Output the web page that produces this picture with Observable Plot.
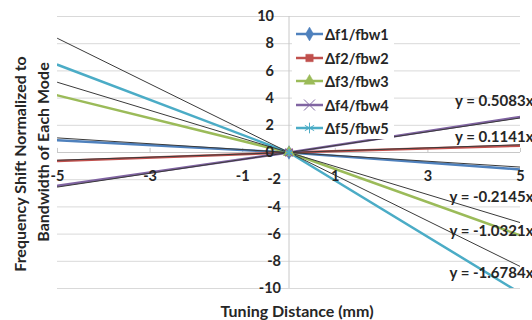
<!DOCTYPE html>
<html>
<head>
<meta charset="utf-8">
<script src="https://cdn.jsdelivr.net/npm/d3@7"></script>
<script src="https://cdn.jsdelivr.net/npm/@observablehq/plot@0.6"></script>
<style>
  html, body { margin: 0; padding: 0; background: #fff; }
  #wrap { position: relative; width: 532px; height: 320px; font-family: Lato, "Open Sans", sans-serif; overflow: hidden; }
  #legend { position: absolute; left: 292px; top: 21px; width: 102px; height: 118px; background: #fff; }
  .row { position: absolute; left: 0; height: 20px; display: flex; align-items: center; }
  .row span { font-weight: bold; font-size: 14.5px; color: #262626; margin-left: 1px; }
  .ytitle { position: absolute; font-weight: bold; font-size: 16px; color: #262626; white-space: nowrap; transform: translate(-50%, -50%) rotate(-90deg); }
  .xtitle { position: absolute; font-weight: bold; font-size: 16px; color: #262626; white-space: nowrap; transform: translate(-50%, -50%); }
</style>
</head>
<body>
<div id="wrap"></div>
<script>
// ---- data ----
const seriesNames = ["Δf1/fbw1", "Δf2/fbw2", "Δf3/fbw3", "Δf4/fbw4", "Δf5/fbw5"];
const seriesColors = ["#4F81BD", "#C0504D", "#9BBB59", "#8064A2", "#4BACC6"];
const seriesSymbols = ["diamond", "square", "triangle", "times", "asterisk"];
const xValues = [-5, 0, 5];
const f1 = [0.9, 0, -1.25];
const f2 = [-0.62, 0, 0.5];
const f3 = [4.2, 0, -6.1];
const f4 = [-2.45, 0, 2.62];
const f5 = [6.45, 0, -10.35];
const trendSlopes = [-0.2145, 0.1141, -1.0321, 0.5083, -1.6784];
const trendLabels = ["y = -0.2145x", "y = 0.1141x", "y = -1.0321x", "y = 0.5083x", "y = -1.6784x"];
const xTicks = [-5, -3, -1, 1, 3, 5];
const yTicks = [-10, -8, -6, -4, -2, 0, 2, 4, 6, 8, 10];
const xTitle = "Tuning Distance (mm)";
const yTitle1 = "Frequency Shift Normalized to";
const yTitle2 = "Bandwidth of Each Mode";

// ---- build tables ----
const allSeries = [f1, f2, f3, f4, f5];
const points = [];
allSeries.forEach((arr, i) => arr.forEach((v, j) => points.push({series: seriesNames[i], x: xValues[j], y: v})));
const trend = [];
trendSlopes.forEach((s, i) => [xValues[0], xValues[xValues.length - 1]].forEach(x => trend.push({series: seriesNames[i], x, y: s * x})));
// label placement (layout, in y-units)
const labelYAt = [-3.25, 1.1, -5.75, 3.8, -8.9];
const labels = trendLabels.map((t, i) => ({text: t, y: labelYAt[i]}));

const font = "Lato, 'Open Sans', sans-serif";
const plot = Plot.plot({
  width: 532, height: 320,
  marginLeft: 57, marginRight: 12, marginTop: 16, marginBottom: 32,
  style: {fontFamily: font, background: "#fff", overflow: "visible"},
  x: {domain: [-5, 5], axis: null},
  y: {domain: [-10, 10], axis: null},
  color: {domain: seriesNames, range: seriesColors},
  marks: [
    Plot.ruleY(yTicks, {stroke: "#d9d9d9", strokeWidth: 1}),
    Plot.ruleX([0], {stroke: "#c8c8c8", strokeWidth: 1}),
    Plot.ruleY([0], {stroke: "#c8c8c8", strokeWidth: 1}),
    Plot.ruleX(xTicks, {y1: 0, y2: 0.3, stroke: "#c8c8c8"}),
    Plot.line(points, {x: "x", y: "y", z: "series", stroke: "series", strokeWidth: 2.5, clip: true}),
    Plot.line(trend, {x: "x", y: "y", z: "series", stroke: "#3a3a3a", strokeWidth: 1, clip: true}),
    Plot.dot(points.filter(d => d.x === 0), {x: "x", y: "y", stroke: "series", fill: "series", symbol: (d) => seriesSymbols[seriesNames.indexOf(d.series)], r: 3.5}),
    Plot.text(yTicks.filter(d => d >= 0), {x: 0, y: d => d, text: d => String(d), textAnchor: "end", dx: -15, fontWeight: "bold", fontSize: 14.5, fill: "#262626"}),
    Plot.text(yTicks.filter(d => d < 0), {x: 0, y: d => d, text: d => String(d), textAnchor: "end", dx: -8, fontWeight: "bold", fontSize: 14.5, fill: "#262626"}),
    Plot.text(xTicks, {x: d => d, y: 0, text: d => String(d), dy: 24, fontWeight: "bold", fontSize: 14.5, fill: "#262626"}),
    Plot.text(labels, {x: 5, y: "y", text: "text", textAnchor: "end", dx: 13, fontWeight: "bold", fontSize: 15, fill: "#262626"})
  ]
});
const wrap = document.getElementById("wrap");
wrap.appendChild(plot);

// legend
const legend = document.createElement("div");
legend.id = "legend";
const rowTops = [3, 27, 50, 74, 97];
const symMap = {diamond: d3.symbolDiamond, square: d3.symbolSquare, triangle: d3.symbolTriangle, times: d3.symbolTimes, asterisk: d3.symbolAsterisk};
seriesNames.forEach((name, i) => {
  const row = document.createElement("div");
  row.className = "row";
  row.style.top = rowTops[i] + "px";
  const svg = d3.create("svg").attr("width", 32).attr("height", 20);
  svg.append("line").attr("x1", 4).attr("x2", 31).attr("y1", 10).attr("y2", 10).attr("stroke", seriesColors[i]).attr("stroke-width", 2.5);
  const thin = seriesSymbols[i] === "times" || seriesSymbols[i] === "asterisk";
  svg.append("path").attr("d", d3.symbol(symMap[seriesSymbols[i]], thin ? 80 : 55)()).attr("transform", "translate(17.5,10)")
    .attr("fill", seriesColors[i]).attr("stroke", seriesColors[i]).attr("stroke-width", thin ? 1 : 0.5);
  row.appendChild(svg.node());
  const sp = document.createElement("span");
  sp.textContent = name;
  row.appendChild(sp);
  legend.appendChild(row);
});
wrap.appendChild(legend);

const t1 = document.createElement("div"); t1.className = "ytitle"; t1.textContent = yTitle1;
t1.style.left = "19px"; t1.style.top = "164px"; wrap.appendChild(t1);
const t2 = document.createElement("div"); t2.className = "ytitle"; t2.textContent = yTitle2;
t2.style.left = "42px"; t2.style.top = "152px"; wrap.appendChild(t2);
const tx = document.createElement("div"); tx.className = "xtitle"; tx.textContent = xTitle;
tx.style.left = "297px"; tx.style.top = "310px"; wrap.appendChild(tx);
</script>
</body>
</html>
